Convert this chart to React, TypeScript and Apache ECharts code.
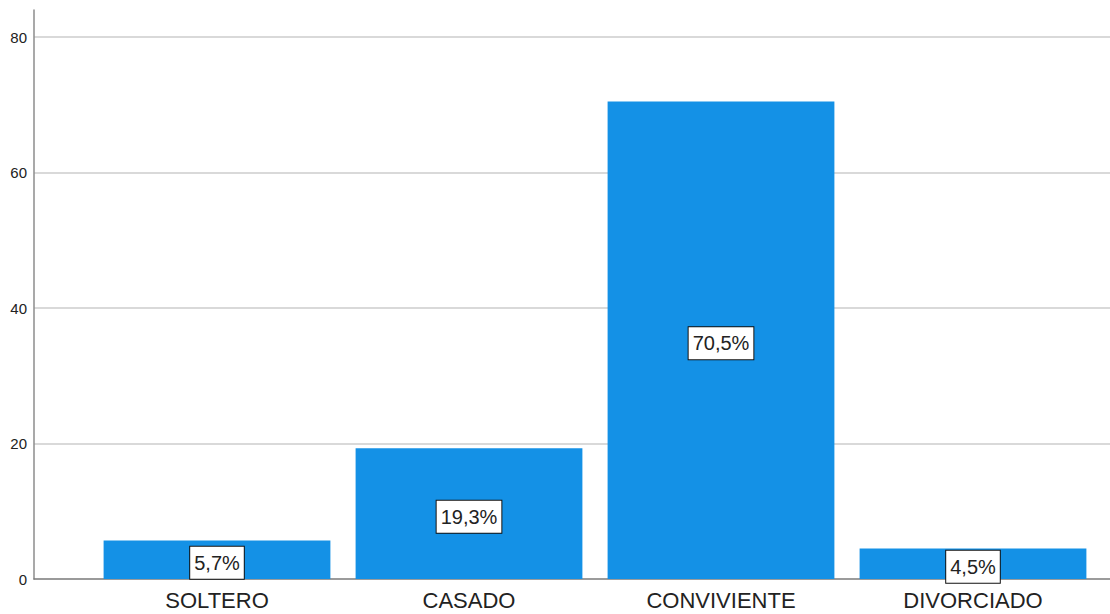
import React, { useEffect, useRef } from "react";
import * as echarts from "echarts";

const categories = ["SOLTERO", "CASADO", "CONVIVIENTE", "DIVORCIADO"];
const percentValues = [5.7, 19.3, 70.5, 4.5];
const yTicks = { min: 0, max: 84, interval: 20 };

export default function App() {
  const ref = useRef<HTMLDivElement>(null);
  useEffect(() => {
    if (!ref.current) return;
    const chart = echarts.init(ref.current, undefined, { renderer: "svg" });
    chart.setOption({
      animation: false,
      backgroundColor: "#ffffff",
      textStyle: { fontFamily: "'Liberation Sans', Arial, sans-serif" },
      grid: [
        { left: 34, right: 0, top: 10, bottom: 35 },
        { left: 91, right: 11, top: 10, bottom: 35 },
      ],
      xAxis: [
        {
          gridIndex: 0,
          type: "category",
          data: [""],
          axisLine: { show: true, lineStyle: { color: "#7a7a7a", width: 1.5 } },
          axisTick: { show: false },
          axisLabel: { show: false },
          splitLine: { show: false },
        },
        {
          gridIndex: 1,
          type: "category",
          data: categories,
          axisLine: { show: false },
          axisTick: { show: false },
          axisLabel: { fontSize: 22, color: "#222", margin: 10 },
        },
      ],
      yAxis: [
        {
          gridIndex: 0,
          type: "value",
          min: yTicks.min,
          max: yTicks.max,
          interval: yTicks.interval,
          axisLine: { show: true, lineStyle: { color: "#8c8c8c", width: 1.5 } },
          axisTick: { show: false },
          axisLabel: { fontSize: 15, color: "#222", margin: 7, showMaxLabel: false },
          splitLine: {
            show: true,
            showMinLine: false,
            showMaxLine: false,
            lineStyle: {
              color: ["#cccccc", "#cccccc", "#cccccc", "#cccccc", "#cccccc", "rgba(0,0,0,0)"],
              width: 1.5,
            },
          },
        },
        {
          gridIndex: 1,
          type: "value",
          min: yTicks.min,
          max: yTicks.max,
          show: false,
          splitLine: { show: false },
        },
      ],
      series: [
        {
          type: "bar",
          xAxisIndex: 1,
          yAxisIndex: 1,
          data: percentValues,
          barCategoryGap: "10%",
          itemStyle: { color: "#1491e6" },
          label: {
            show: true,
            position: "inside",
            offset: [0, 3],
            formatter: (p: any) => p.value.toFixed(1).replace(".", ",") + "%",
            fontFamily: "'Liberation Sans', Arial, sans-serif",
            fontSize: 20,
            lineHeight: 25,
            color: "#222",
            backgroundColor: "#ffffff",
            borderColor: "#111",
            borderWidth: 1,
            padding: [4, 4, 3, 4],
          },
        },
      ],
    });
    return () => chart.dispose();
  }, []);
  return (
    <div
      ref={ref}
      style={{ position: "fixed", left: 0, top: 0, width: 1110, height: 614 }}
    />
  );
}
